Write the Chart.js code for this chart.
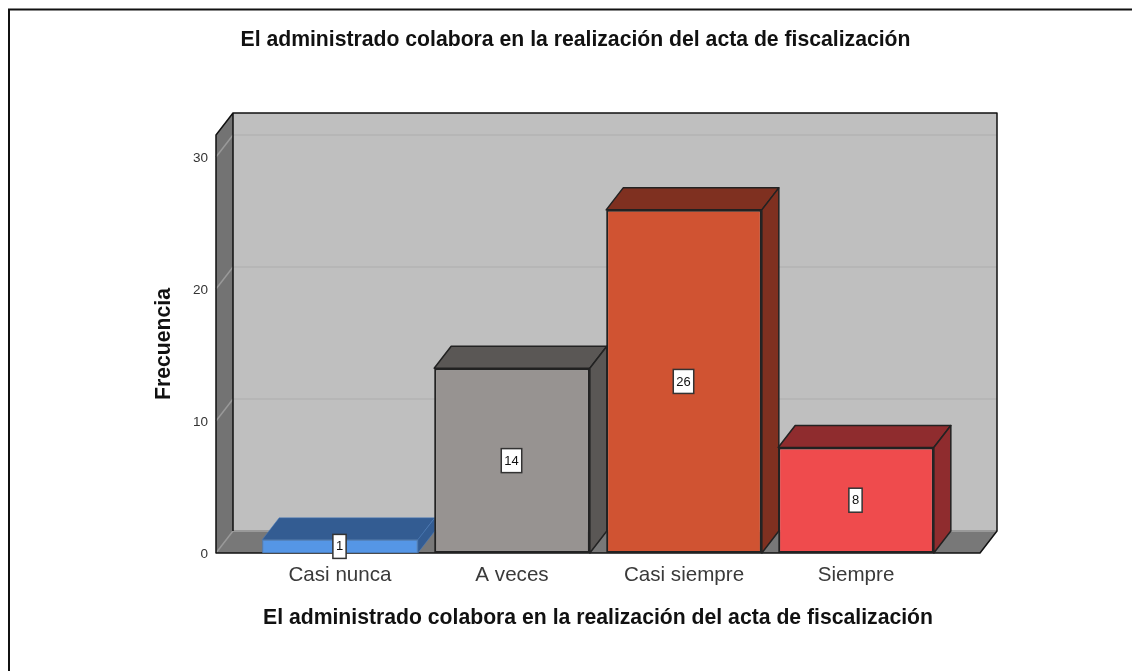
<!DOCTYPE html>
<html>
<head>
<meta charset="utf-8">
<title>Frecuencia</title>
<script src="https://cdn.jsdelivr.net/npm/chart.js@4"></script>
<style>
    html, body { margin: 0; padding: 0; background: #fff; overflow: hidden; }
    #wrap { width: 1132px; height: 671px; }
</style>
</head>
<body>
<div id="wrap"><canvas id="freqChart" width="1132" height="671"></canvas></div>
<script>
const categories = ['Casi nunca', 'A veces', 'Casi siempre', 'Siempre'];
const frecuencia = [1, 14, 26, 8];
const yTicks = [0, 10, 20, 30];
const titulo = 'El administrado colabora en la realización del acta de fiscalización';

const frontColors = ['#5596e6', '#979391', '#d05332', '#ef4b4d'];
const depthColors = ['#335c92', '#5a5755', '#7f3020', '#8f2c2e'];
const edgeColors = ['#4a7fc0', '#222222', '#222222', '#222222'];
const edgeWidths = [1, 2, 2, 2];

// fake 3D, SPSS style
const depthX = 17;
const depthY = 22;
const wallPad = 38;

function poly(ctx, pts, fill, stroke, lw) {
    ctx.beginPath();
    pts.forEach((p, i) => i ? ctx.lineTo(p[0], p[1]) : ctx.moveTo(p[0], p[1]));
    ctx.closePath();
    if (fill) { ctx.fillStyle = fill; ctx.fill(); }
    if (stroke) { ctx.strokeStyle = stroke; ctx.lineWidth = lw || 1; ctx.stroke(); }
}

const box3d = {
    id: 'box3d',
    beforeDraw(chart) {
        const ctx = chart.ctx;
        ctx.save();
        // outer frame, cut by the right and bottom of the image
        ctx.strokeStyle = '#111';
        ctx.lineWidth = 2;
        ctx.beginPath();
        ctx.moveTo(9, 671);
        ctx.lineTo(9, 9.5);
        ctx.lineTo(1132, 9.5);
        ctx.stroke();
        ctx.restore();
    },
    beforeDatasetsDraw(chart) {
        const ctx = chart.ctx;
        const y = chart.scales.y;
        const a = chart.chartArea;
        const l = a.left - wallPad, r = a.right + wallPad, t = a.top, b = a.bottom;
        ctx.save();
        ctx.lineJoin = 'round';

        // back wall, floor and left wall
        poly(ctx, [[l + depthX, t - depthY], [r + depthX, t - depthY], [r + depthX, b - depthY], [l + depthX, b - depthY]], '#bfbfbf');
        poly(ctx, [[l, b], [r, b], [r + depthX, b - depthY], [l + depthX, b - depthY]], '#787878');
        poly(ctx, [[l, b], [l, t], [l + depthX, t - depthY], [l + depthX, b - depthY]], '#737373');

        // grid lines on the wall
        ctx.lineWidth = 1.5;
        yTicks.forEach(v => {
            const py = y.getPixelForValue(v);
            ctx.strokeStyle = '#999';
            ctx.beginPath();
            ctx.moveTo(l, py);
            ctx.lineTo(l + depthX, py - depthY);
            ctx.stroke();
            if (v > 0) {
                ctx.strokeStyle = '#b3b3b3';
                ctx.beginPath();
                ctx.moveTo(l + depthX, py - depthY);
                ctx.lineTo(r + depthX, py - depthY);
                ctx.stroke();
            }
        });
        ctx.strokeStyle = '#999';
        ctx.lineWidth = 2;
        ctx.beginPath();
        ctx.moveTo(l + depthX, b - depthY);
        ctx.lineTo(r + depthX, b - depthY);
        ctx.stroke();

        // wall outlines
        ctx.strokeStyle = '#111';
        ctx.lineWidth = 1.5;
        ctx.beginPath();
        ctx.moveTo(l + depthX, b - depthY);
        ctx.lineTo(l + depthX, t - depthY);
        ctx.lineTo(r + depthX, t - depthY);
        ctx.lineTo(r + depthX, b - depthY);
        ctx.lineTo(r, b);
        ctx.lineTo(l, b);
        ctx.lineTo(l, t);
        ctx.lineTo(l + depthX, t - depthY);
        ctx.stroke();

        // top and side faces of the bars
        chart.getDatasetMeta(0).data.forEach((bar, i) => {
            const p = bar.getProps(['x', 'y', 'base', 'width'], true);
            const x0 = p.x - p.width / 2, x1 = p.x + p.width / 2;
            poly(ctx, [[x0, p.y], [x1, p.y], [x1 + depthX, p.y - depthY], [x0 + depthX, p.y - depthY]], depthColors[i], edgeColors[i], edgeWidths[i] - 0.5);
            poly(ctx, [[x1, p.y], [x1, p.base], [x1 + depthX, p.base - depthY], [x1 + depthX, p.y - depthY]], depthColors[i], edgeColors[i], edgeWidths[i] - 0.5);
        });
        ctx.restore();
    },
    afterDatasetsDraw(chart) {
        const ctx = chart.ctx;
        ctx.save();
        ctx.font = '13px "Liberation Sans", Arial, sans-serif';
        ctx.textAlign = 'center';
        ctx.textBaseline = 'middle';
        chart.getDatasetMeta(0).data.forEach((bar, i) => {
            const p = bar.getProps(['x', 'y', 'base'], true);
            const txt = String(frecuencia[i]);
            const w = ctx.measureText(txt).width + 6;
            const h = 24;
            const cx = p.x - 0.5;
            const cy = (p.y + p.base) / 2;
            ctx.fillStyle = '#fff';
            ctx.fillRect(cx - w / 2, cy - h / 2, w, h);
            ctx.strokeStyle = '#333';
            ctx.lineWidth = 1.5;
            ctx.strokeRect(cx - w / 2, cy - h / 2, w, h);
            ctx.fillStyle = '#111';
            ctx.fillText(txt, cx, cy + 0.5);
        });
        ctx.restore();
    }
};

const ctx = document.getElementById('freqChart').getContext('2d');

new Chart(ctx, {
    type: 'bar',
    data: {
        labels: categories,
        datasets: [{
            data: frecuencia,
            backgroundColor: frontColors,
            borderColor: edgeColors,
            borderWidth: edgeWidths,
            borderSkipped: false,
            barPercentage: 0.905,
            categoryPercentage: 1
        }]
    },
    options: {
        responsive: false,
        animation: false,
        layout: { padding: { left: 19, right: 0, top: 0, bottom: 0 } },
        plugins: {
            legend: { display: false },
            tooltip: { enabled: false },
            title: {
                display: true,
                text: titulo,
                color: '#111',
                font: { family: '"Liberation Sans", Arial, sans-serif', size: 21.2, weight: 'bold', lineHeight: 1.2 },
                padding: { top: 27.5, bottom: 82.1 }
            }
        },
        scales: {
            x: {
                grid: { display: false, drawTicks: false },
                border: { display: false },
                ticks: {
                    color: '#3a3a3a',
                    padding: 10,
                    maxRotation: 0,
                    font: { family: '"Liberation Sans", Arial, sans-serif', size: 20.6 }
                },
                title: {
                    display: true,
                    text: titulo,
                    color: '#111',
                    font: { family: '"Liberation Sans", Arial, sans-serif', size: 21.2, weight: 'bold', lineHeight: 1.2 },
                    padding: { top: 0, bottom: 40.3 }
                },
                afterFit(scale) { scale.height = 118; }
            },
            y: {
                min: 0,
                max: 31.67,
                grid: { display: false, drawTicks: false },
                border: { display: false },
                afterBuildTicks(scale) { scale.ticks = yTicks.map(v => ({ value: v })); },
                ticks: {
                    color: '#333',
                    padding: 46,
                    labelOffset: 1.5,
                    font: { family: '"Liberation Sans", Arial, sans-serif', size: 13.5 }
                },
                title: {
                    display: true,
                    text: 'Frecuencia',
                    color: '#111',
                    font: { family: '"Liberation Sans", Arial, sans-serif', size: 21.2, weight: 'bold', lineHeight: 1.2 },
                    padding: { top: 132.3, bottom: 0 }
                },
                afterFit(scale) { scale.width = 235; }
            },
            // empty axis, only keeps the plot at the right width
            spacer: {
                position: 'right',
                grid: { display: false, drawTicks: false },
                border: { display: false },
                ticks: { display: false },
                afterFit(scale) { scale.width = 190; }
            }
        }
    },
    plugins: [box3d]
});
</script>
</body>
</html>
